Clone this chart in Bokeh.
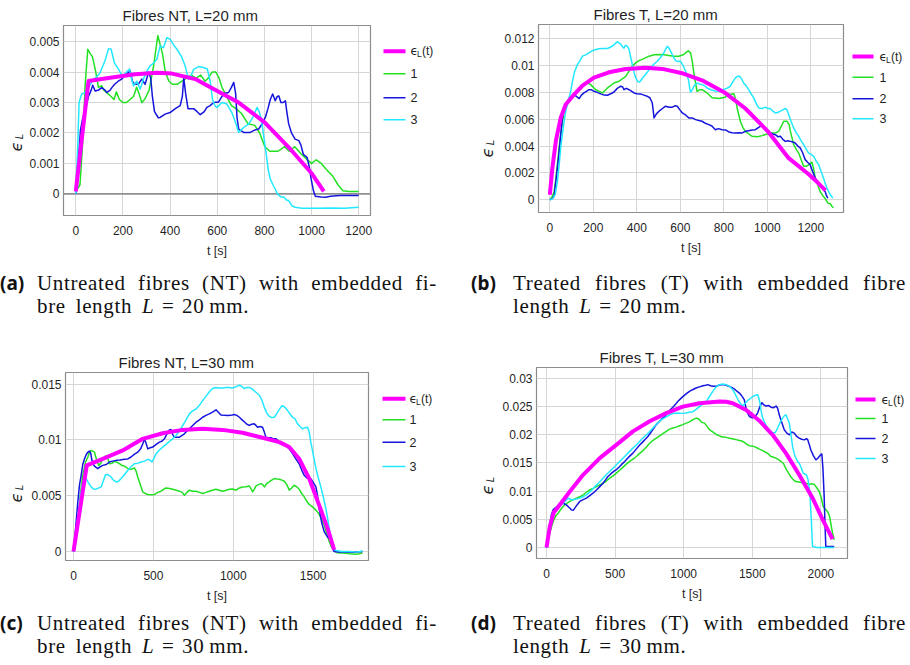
import math
from bokeh.plotting import figure
from bokeh.layouts import row, column
from bokeh.models import Range1d, FixedTicker, CustomJSTickFormatter, Span, Div
from bokeh.core.properties import value
from bokeh.embed import file_html
from bokeh.resources import INLINE

# ---------------- data ----------------
# Panel (a): Fibres NT, L=20 mm
a_fit_t = [0, 54, 153, 252, 344, 408, 507, 602, 691, 801, 903, 1002, 1052]
a_fit_e = [0.00008, 0.00371, 0.00382, 0.00393, 0.00398, 0.00395, 0.00377, 0.00337, 0.00300, 0.00235, 0.00153, 0.00066, 0.00008]
a1_t = [0, 10, 18, 28, 40, 51, 62, 71, 85, 96, 110, 120, 135, 150, 162, 172, 185, 200, 215, 230, 245, 258, 268, 280, 292, 311, 330, 348, 358, 368, 380, 395, 410, 430, 450, 470, 490, 510, 530, 548, 562, 578, 594, 608, 620, 640, 660, 680, 703, 731, 759, 780, 802, 823, 858, 886, 905, 929, 957, 985, 1000, 1020, 1041, 1063, 1091, 1112, 1133, 1160, 1200]
a1_e = [0.0001, 0.0002, 0.0003, 0.0015, 0.0036, 0.00475, 0.0046, 0.0045, 0.0040, 0.0035, 0.00355, 0.0034, 0.0033, 0.0032, 0.0031, 0.00335, 0.0031, 0.0030, 0.0030, 0.0031, 0.0032, 0.0035, 0.0033, 0.0030, 0.0031, 0.0034, 0.0042, 0.0052, 0.0049, 0.0046, 0.0040, 0.0037, 0.0036, 0.0036, 0.0037, 0.0038, 0.0039, 0.0038, 0.0039, 0.0037, 0.0038, 0.0040, 0.0040, 0.0038, 0.0035, 0.0032, 0.0029, 0.0028, 0.00264, 0.0023, 0.00225, 0.0020, 0.00155, 0.0014, 0.0014, 0.00155, 0.0014, 0.00155, 0.0013, 0.0011, 0.0010, 0.00112, 0.0010, 0.0008, 0.00057, 0.0003, 0.0001, 0.00008, 0.00008]
a2_t = [0, 10, 20, 30, 45, 54, 65, 72, 82, 95, 110, 125, 132, 145, 153, 165, 180, 195, 210, 225, 231, 240, 250, 265, 280, 294, 309, 318, 325, 334, 350, 358, 379, 400, 422, 443, 452, 458, 466, 476, 490, 500, 515, 528, 545, 556, 570, 585, 606, 620, 630, 648, 660, 670, 678, 684, 691, 712, 740, 760, 776, 790, 804, 815, 825, 835, 846, 855, 861, 870, 880, 889, 895, 903, 915, 930, 946, 955, 965, 981, 990, 998, 1008, 1016, 1040, 1060, 1080, 1120, 1200]
a2_e = [0.0000, 0.0010, 0.0021, 0.0025, 0.0029, 0.0032, 0.0034, 0.00357, 0.00338, 0.0034, 0.00349, 0.0034, 0.00333, 0.0034, 0.00349, 0.0036, 0.0037, 0.00377, 0.0039, 0.0040, 0.00404, 0.0037, 0.0036, 0.0036, 0.00377, 0.0036, 0.0040, 0.0038, 0.0032, 0.0027, 0.0025, 0.00251, 0.00262, 0.00267, 0.0028, 0.0029, 0.0032, 0.0038, 0.0033, 0.0028, 0.0028, 0.0028, 0.0027, 0.0026, 0.0027, 0.00284, 0.0029, 0.0030, 0.00302, 0.0032, 0.0033, 0.00333, 0.0035, 0.00366, 0.0033, 0.0025, 0.00213, 0.00202, 0.00202, 0.0021, 0.00213, 0.0023, 0.00251, 0.0028, 0.0031, 0.00328, 0.00306, 0.0032, 0.00322, 0.0030, 0.0030, 0.00306, 0.0027, 0.0023, 0.0020, 0.0018, 0.00175, 0.0016, 0.0013, 0.0012, 0.0009, 0.0005, 0.0001, -0.00008, -0.0001, -0.00011, -0.00008, -0.00005, -0.00005]
a3_t = [0, 8, 14, 25, 40, 55, 70, 82, 95, 103, 115, 125, 139, 150, 164, 181, 195, 202, 215, 228, 236, 245, 259, 273, 287, 302, 315, 330, 344, 358, 372, 386, 400, 414, 429, 450, 464, 478, 490, 500, 521, 542, 558, 570, 580, 590, 599, 620, 641, 662, 675, 691, 712, 733, 750, 769, 778, 787, 797, 807, 816, 825, 836, 846, 855, 870, 882, 893, 903, 918, 931, 960, 1020, 1080, 1140, 1200]
a3_e = [0.0000, 0.0015, 0.0030, 0.00328, 0.00333, 0.0035, 0.0037, 0.0038, 0.0039, 0.00398, 0.0042, 0.0044, 0.00477, 0.00475, 0.0043, 0.0041, 0.0039, 0.00388, 0.0040, 0.0041, 0.0038, 0.00355, 0.0037, 0.00344, 0.00377, 0.00404, 0.0042, 0.0043, 0.00442, 0.00486, 0.0048, 0.00513, 0.00508, 0.0049, 0.00475, 0.00448, 0.0042, 0.00377, 0.0039, 0.00409, 0.00418, 0.00415, 0.0041, 0.0037, 0.0031, 0.0029, 0.00284, 0.0030, 0.00295, 0.00267, 0.0024, 0.00202, 0.00218, 0.00229, 0.0025, 0.00284, 0.0027, 0.00246, 0.0019, 0.00136, 0.0008, 0.00049, 0.0003, 0.00016, 0.0000, -0.0001, -0.0001, -0.0002, -0.00022, -0.0004, -0.00044, -0.00047, -0.00047, -0.00046, -0.00047, -0.00044]

# Panel (b): Fibres T, L=20 mm
b_fit_t = [0, 12, 28, 50, 73, 104, 150, 203, 272, 349, 440, 517, 604, 700, 803, 899, 1002, 1098, 1190, 1230, 1267]
b_fit_e = [0.00037, 0.0024, 0.0044, 0.0061, 0.0071, 0.0077, 0.0085, 0.0091, 0.0095, 0.00975, 0.00983, 0.00975, 0.00945, 0.0089, 0.0080, 0.0068, 0.0051, 0.0031, 0.0019, 0.0013, 0.0007]
b1_t = [0, 10, 20, 28, 36, 43, 50, 58, 66, 73, 89, 112, 135, 157, 173, 188, 211, 242, 265, 295, 318, 349, 365, 379, 395, 410, 430, 456, 480, 502, 525, 547, 570, 593, 616, 628, 636, 647, 655, 662, 670, 677, 690, 700, 723, 746, 777, 807, 820, 830, 846, 854, 861, 869, 876, 887, 899, 915, 930, 955, 976, 1000, 1021, 1040, 1052, 1065, 1075, 1090, 1100, 1106, 1115, 1121, 1135, 1144, 1155, 1167, 1180, 1190, 1205, 1213, 1220, 1232, 1243, 1255, 1266, 1278, 1290, 1297, 1304]
b1_e = [0.0000, 0.0002, 0.0006, 0.0016, 0.0028, 0.0039, 0.0049, 0.0058, 0.0066, 0.0071, 0.0076, 0.0078, 0.0082, 0.00858, 0.0087, 0.00858, 0.0082, 0.00796, 0.00833, 0.0087, 0.00883, 0.0092, 0.0096, 0.00995, 0.0102, 0.01037, 0.0105, 0.0107, 0.0108, 0.01082, 0.0108, 0.01075, 0.0107, 0.0107, 0.01082, 0.0110, 0.0111, 0.01095, 0.0103, 0.00945, 0.0087, 0.00808, 0.0082, 0.0082, 0.00796, 0.0076, 0.00754, 0.00764, 0.0079, 0.00784, 0.0079, 0.0075, 0.00684, 0.0063, 0.00585, 0.0054, 0.0051, 0.0049, 0.00473, 0.0047, 0.00478, 0.0049, 0.00498, 0.0050, 0.0051, 0.0055, 0.00585, 0.00585, 0.0056, 0.0051, 0.0045, 0.0041, 0.0037, 0.00348, 0.0030, 0.0025, 0.0025, 0.0026, 0.0028, 0.0023, 0.0016, 0.0011, 0.0006, 0.0003, 0.0001, -0.00025, -0.0003, -0.0005, -0.0006]
b2_t = [0, 12, 20, 28, 40, 50, 58, 66, 73, 89, 100, 112, 122, 135, 145, 157, 170, 180, 190, 203, 218, 234, 250, 265, 280, 295, 310, 326, 335, 341, 352, 364, 375, 387, 400, 417, 432, 448, 460, 471, 475, 479, 490, 502, 518, 532, 548, 563, 575, 586, 598, 609, 625, 639, 655, 670, 685, 700, 715, 731, 745, 761, 775, 792, 808, 823, 838, 853, 869, 884, 899, 914, 930, 945, 960, 976, 991, 1002, 1014, 1025, 1037, 1048, 1060, 1071, 1083, 1095, 1106, 1117, 1128, 1140, 1151, 1162, 1174, 1185, 1197, 1208, 1220, 1232, 1243, 1255, 1266, 1272, 1278]
b2_e = [0.0000, 0.0001, 0.0003, 0.0014, 0.0031, 0.0048, 0.0061, 0.0068, 0.0071, 0.00734, 0.0076, 0.00784, 0.0077, 0.00754, 0.0078, 0.00796, 0.0081, 0.0082, 0.0082, 0.00808, 0.0080, 0.00789, 0.0078, 0.00779, 0.0079, 0.00803, 0.0083, 0.00846, 0.0084, 0.0082, 0.0083, 0.0082, 0.0081, 0.00796, 0.0079, 0.00789, 0.0078, 0.00771, 0.0076, 0.00721, 0.0067, 0.0061, 0.0064, 0.0066, 0.0068, 0.00697, 0.0069, 0.0069, 0.0070, 0.00697, 0.0067, 0.00647, 0.0063, 0.0061, 0.0061, 0.00597, 0.0059, 0.00585, 0.0057, 0.0056, 0.0055, 0.00522, 0.0053, 0.00522, 0.0052, 0.00505, 0.0050, 0.00498, 0.0050, 0.00498, 0.0051, 0.00515, 0.0052, 0.00522, 0.0054, 0.00555, 0.0053, 0.0051, 0.00498, 0.0049, 0.00485, 0.0047, 0.00473, 0.0045, 0.00435, 0.0044, 0.00435, 0.0043, 0.00423, 0.0040, 0.00386, 0.0035, 0.00299, 0.0028, 0.00261, 0.0021, 0.00162, 0.0013, 0.0010, 0.0008, 0.0006, 0.0003, 0.00012]
b3_t = [0, 15, 25, 35, 43, 50, 58, 66, 73, 81, 89, 96, 105, 115, 127, 140, 150, 165, 180, 195, 211, 226, 242, 265, 287, 298, 310, 318, 326, 334, 341, 347, 352, 358, 364, 372, 379, 387, 395, 405, 413, 423, 433, 448, 463, 478, 494, 509, 524, 532, 540, 548, 555, 566, 578, 590, 601, 613, 624, 632, 639, 643, 647, 655, 662, 670, 677, 690, 700, 712, 723, 740, 760, 777, 795, 813, 830, 842, 853, 863, 872, 882, 891, 902, 914, 925, 937, 948, 960, 975, 991, 1002, 1014, 1025, 1037, 1048, 1060, 1071, 1083, 1090, 1098, 1110, 1121, 1132, 1144, 1155, 1167, 1178, 1190, 1200, 1213, 1224, 1236, 1247, 1258, 1266, 1274, 1285, 1293, 1301]
b3_e = [0.0000, 0.0001, 0.0004, 0.00137, 0.0026, 0.00386, 0.0049, 0.00585, 0.0066, 0.0071, 0.0076, 0.00808, 0.0089, 0.0096, 0.01007, 0.0104, 0.0107, 0.0108, 0.01095, 0.0111, 0.0112, 0.01125, 0.01127, 0.01127, 0.01144, 0.0116, 0.01177, 0.0117, 0.0116, 0.0114, 0.0113, 0.0115, 0.0115, 0.0114, 0.0112, 0.0106, 0.01007, 0.0095, 0.00908, 0.0088, 0.00878, 0.0090, 0.0092, 0.0095, 0.00983, 0.0101, 0.01032, 0.0106, 0.01095, 0.0112, 0.01144, 0.0113, 0.01107, 0.0107, 0.01037, 0.0103, 0.01032, 0.0100, 0.00958, 0.0092, 0.00883, 0.0083, 0.00803, 0.0082, 0.00846, 0.0086, 0.0087, 0.0086, 0.00858, 0.0085, 0.00833, 0.0082, 0.0081, 0.00808, 0.0082, 0.0083, 0.00846, 0.0088, 0.00908, 0.0092, 0.0092, 0.0090, 0.0087, 0.0085, 0.0082, 0.0079, 0.00759, 0.0072, 0.00684, 0.0068, 0.0069, 0.0068, 0.0068, 0.0066, 0.00647, 0.0065, 0.0066, 0.0067, 0.0068, 0.0067, 0.00635, 0.0058, 0.00535, 0.0050, 0.00473, 0.0044, 0.0041, 0.0038, 0.00348, 0.0034, 0.00323, 0.0029, 0.00261, 0.0021, 0.00162, 0.0012, 0.00087, 0.0005, 0.0003, 0.00012]

# Panel (c): Fibres NT, L=30 mm
c_fit_t = [0, 83, 183, 308, 433, 558, 683, 808, 933, 1058, 1183, 1288, 1350, 1412, 1475, 1537, 1590, 1631]
c_fit_e = [0.0, 0.00772, 0.0083, 0.00906, 0.0101, 0.0106, 0.0109, 0.0110, 0.0109, 0.01064, 0.0102, 0.0098, 0.00936, 0.00832, 0.00654, 0.00416, 0.00208, 0.00015]
c1_t = [0, 15, 27, 40, 58, 75, 90, 100, 110, 120, 131, 145, 158, 170, 183, 200, 212, 225, 240, 256, 272, 288, 304, 319, 335, 350, 366, 381, 392, 402, 418, 433, 450, 465, 485, 506, 527, 548, 565, 579, 600, 621, 642, 663, 680, 694, 710, 725, 746, 767, 788, 808, 829, 850, 870, 892, 912, 933, 955, 975, 996, 1017, 1038, 1058, 1080, 1100, 1112, 1121, 1132, 1142, 1158, 1173, 1184, 1194, 1210, 1225, 1240, 1256, 1272, 1288, 1304, 1319, 1335, 1350, 1365, 1381, 1397, 1412, 1428, 1444, 1460, 1475, 1496, 1517, 1535, 1552, 1569, 1585, 1600, 1615, 1631, 1650, 1680, 1704, 1730, 1767, 1790, 1808]
c1_e = [0.0, 0.001, 0.00267, 0.0048, 0.00683, 0.0080, 0.00847, 0.0089, 0.00906, 0.0090, 0.0089, 0.0082, 0.00772, 0.0079, 0.0083, 0.00856, 0.0085, 0.00787, 0.0079, 0.00808, 0.0080, 0.00787, 0.0077, 0.00766, 0.0075, 0.00737, 0.0074, 0.00749, 0.0072, 0.00668, 0.0060, 0.00535, 0.0052, 0.00511, 0.0051, 0.00511, 0.0053, 0.00541, 0.0056, 0.0057, 0.00565, 0.00559, 0.0055, 0.00541, 0.0053, 0.00505, 0.0053, 0.0055, 0.0054, 0.00541, 0.0053, 0.0052, 0.0053, 0.00541, 0.0055, 0.00559, 0.0055, 0.00541, 0.0055, 0.00559, 0.0056, 0.0055, 0.0057, 0.00579, 0.0058, 0.00588, 0.0056, 0.00535, 0.0056, 0.00588, 0.0060, 0.00609, 0.0060, 0.00579, 0.0061, 0.00624, 0.0064, 0.00654, 0.0065, 0.00648, 0.0064, 0.0063, 0.0060, 0.0055, 0.0057, 0.00594, 0.0058, 0.00559, 0.0052, 0.0049, 0.0045, 0.00422, 0.0040, 0.00371, 0.0034, 0.0029, 0.00238, 0.0016, 0.00089, 0.0004, 0.00006, -0.0001, -0.00012, -0.00015, -0.0002, -0.00024, -0.0002, -0.0001]
c2_t = [0, 10, 27, 38, 48, 58, 69, 80, 90, 100, 108, 115, 121, 135, 152, 168, 183, 205, 225, 245, 267, 290, 319, 340, 360, 380, 402, 420, 435, 444, 452, 465, 480, 496, 517, 538, 555, 569, 580, 590, 600, 610, 620, 631, 647, 663, 680, 694, 710, 725, 746, 767, 788, 808, 829, 850, 870, 892, 905, 923, 944, 965, 985, 1006, 1022, 1038, 1055, 1070, 1085, 1100, 1115, 1131, 1142, 1152, 1168, 1183, 1194, 1204, 1220, 1235, 1251, 1267, 1283, 1298, 1314, 1329, 1350, 1371, 1391, 1412, 1428, 1444, 1460, 1485, 1500, 1517, 1527, 1537, 1553, 1569, 1590, 1610, 1620, 1631, 1660, 1704, 1760, 1808]
c2_e = [0.0, 0.0015, 0.00446, 0.0060, 0.00683, 0.0078, 0.00832, 0.0087, 0.0089, 0.0090, 0.0088, 0.0082, 0.00787, 0.0076, 0.00743, 0.0076, 0.00772, 0.0078, 0.00802, 0.0081, 0.00817, 0.0082, 0.00826, 0.0083, 0.00847, 0.0087, 0.0089, 0.0092, 0.0097, 0.0101, 0.0098, 0.0092, 0.0093, 0.00936, 0.0096, 0.0098, 0.0099, 0.0101, 0.0104, 0.0107, 0.0109, 0.01093, 0.0105, 0.01025, 0.01025, 0.01025, 0.0104, 0.01055, 0.0108, 0.0110, 0.0113, 0.01159, 0.0118, 0.01203, 0.0122, 0.01233, 0.0125, 0.0127, 0.0125, 0.01224, 0.0122, 0.01218, 0.0122, 0.01227, 0.0122, 0.01203, 0.0118, 0.0116, 0.0114, 0.0113, 0.0114, 0.01144, 0.0113, 0.01114, 0.0112, 0.01114, 0.0107, 0.01025, 0.0102, 0.0102, 0.0101, 0.0101, 0.0099, 0.00974, 0.0096, 0.0095, 0.0092, 0.00877, 0.0083, 0.00787, 0.0073, 0.00683, 0.0066, 0.00654, 0.0062, 0.00579, 0.0050, 0.00386, 0.0026, 0.00178, 0.0013, 0.00104, 0.0005, 0.0, -0.00003, -0.00003, -0.00005, 0.0]
c3_t = [0, 12, 27, 42, 58, 70, 79, 92, 110, 126, 142, 158, 173, 186, 200, 215, 235, 250, 267, 282, 298, 320, 340, 360, 381, 400, 423, 444, 465, 478, 490, 505, 517, 538, 558, 580, 600, 620, 642, 663, 683, 704, 725, 746, 767, 788, 808, 829, 850, 870, 892, 912, 933, 955, 975, 990, 1006, 1022, 1038, 1053, 1069, 1084, 1100, 1115, 1131, 1147, 1163, 1178, 1194, 1210, 1225, 1240, 1256, 1270, 1283, 1296, 1308, 1324, 1340, 1356, 1371, 1386, 1402, 1418, 1433, 1450, 1465, 1475, 1485, 1500, 1517, 1532, 1548, 1563, 1579, 1590, 1600, 1610, 1621, 1642, 1680, 1725, 1770, 1808]
c3_e = [0.0, 0.0010, 0.00297, 0.0048, 0.00624, 0.0065, 0.00654, 0.0062, 0.00579, 0.0056, 0.00559, 0.0057, 0.00579, 0.0063, 0.00689, 0.0069, 0.00668, 0.0064, 0.00624, 0.0063, 0.00654, 0.0069, 0.00728, 0.0076, 0.00787, 0.0079, 0.00802, 0.0081, 0.00826, 0.0082, 0.00802, 0.0084, 0.00877, 0.0091, 0.00936, 0.0096, 0.00986, 0.0101, 0.0104, 0.0108, 0.01129, 0.0118, 0.01233, 0.0126, 0.01277, 0.0131, 0.01352, 0.0139, 0.01432, 0.0146, 0.0147, 0.01465, 0.01465, 0.0147, 0.0147, 0.01465, 0.0147, 0.0148, 0.0149, 0.0148, 0.0146, 0.0147, 0.0147, 0.0146, 0.0144, 0.0142, 0.0140, 0.0136, 0.01292, 0.0124, 0.01212, 0.0120, 0.01203, 0.0123, 0.01263, 0.0129, 0.01307, 0.0129, 0.01263, 0.0123, 0.01203, 0.0119, 0.01144, 0.0112, 0.01099, 0.0111, 0.01114, 0.0107, 0.0098, 0.0087, 0.00743, 0.0066, 0.00579, 0.0049, 0.00386, 0.0030, 0.00208, 0.0011, 0.0003, 0.0001, 0.0, 0.0, -0.00005, 0.00005]

# Panel (d): Fibres T, L=30 mm
d_fit_t = [0, 24, 53, 97, 170, 267, 388, 509, 630, 752, 873, 994, 1115, 1261, 1310, 1358, 1455, 1552, 1648, 1745, 1842, 1939, 2012, 2085]
d_fit_e = [0.0, 0.00373, 0.0062, 0.00757, 0.00994, 0.0129, 0.01586, 0.0182, 0.0206, 0.0224, 0.02385, 0.0250, 0.0256, 0.0259, 0.02585, 0.0256, 0.0244, 0.0225, 0.0200, 0.01675, 0.0129, 0.0088, 0.0050, 0.0015]
d1_t = [0, 12, 24, 38, 53, 70, 85, 100, 121, 145, 170, 195, 218, 242, 267, 291, 315, 340, 364, 388, 412, 436, 461, 485, 509, 533, 558, 582, 606, 630, 655, 679, 703, 727, 752, 776, 800, 824, 848, 873, 897, 921, 945, 970, 994, 1018, 1042, 1067, 1091, 1103, 1115, 1133, 1152, 1170, 1188, 1206, 1224, 1242, 1261, 1280, 1297, 1315, 1333, 1352, 1370, 1388, 1406, 1424, 1442, 1460, 1479, 1497, 1515, 1533, 1552, 1576, 1600, 1618, 1636, 1655, 1673, 1691, 1709, 1727, 1745, 1764, 1782, 1800, 1818, 1850, 1880, 1915, 1933, 1952, 1970, 1988, 2003, 2017, 2033, 2048, 2060, 2068, 2078, 2085, 2097]
d1_e = [0.0, 0.0012, 0.00254, 0.0038, 0.0049, 0.0057, 0.0061, 0.0066, 0.00728, 0.0078, 0.00817, 0.0085, 0.00876, 0.0090, 0.00935, 0.0098, 0.01024, 0.0105, 0.0108, 0.0111, 0.0114, 0.0118, 0.0123, 0.0127, 0.0132, 0.0137, 0.01426, 0.0148, 0.01527, 0.0157, 0.01615, 0.0167, 0.0172, 0.0178, 0.0185, 0.0190, 0.0194, 0.0198, 0.0202, 0.0206, 0.0210, 0.0212, 0.02136, 0.0216, 0.0218, 0.02207, 0.0223, 0.0227, 0.02296, 0.0229, 0.02266, 0.0222, 0.02207, 0.0215, 0.0209, 0.0206, 0.0203, 0.0200, 0.0198, 0.0196, 0.0196, 0.0195, 0.0194, 0.0193, 0.0192, 0.0191, 0.0190, 0.0189, 0.01864, 0.0183, 0.01805, 0.0180, 0.0179, 0.0177, 0.01746, 0.0172, 0.01686, 0.0166, 0.01615, 0.0160, 0.01586, 0.0156, 0.01527, 0.0149, 0.0140, 0.0132, 0.0125, 0.0120, 0.0117, 0.0116, 0.0115, 0.0112, 0.0113, 0.0112, 0.0106, 0.00994, 0.0088, 0.00728, 0.0068, 0.0064, 0.0058, 0.0049, 0.0035, 0.00254, 0.00136]
d2_t = [0, 12, 24, 36, 48, 62, 78, 93, 109, 125, 145, 165, 182, 195, 206, 224, 242, 267, 291, 315, 339, 364, 388, 412, 430, 448, 470, 490, 509, 530, 550, 570, 590, 610, 630, 655, 679, 700, 720, 739, 760, 780, 800, 820, 840, 861, 880, 900, 921, 940, 960, 982, 1000, 1020, 1042, 1065, 1090, 1115, 1140, 1160, 1176, 1195, 1215, 1236, 1255, 1275, 1297, 1320, 1340, 1358, 1375, 1390, 1406, 1420, 1432, 1442, 1452, 1462, 1479, 1500, 1520, 1539, 1555, 1570, 1585, 1600, 1618, 1636, 1655, 1673, 1685, 1697, 1715, 1733, 1752, 1770, 1788, 1806, 1824, 1842, 1860, 1879, 1895, 1903, 1915, 1927, 1945, 1964, 1976, 1988, 2000, 2007, 2015, 2024, 2030, 2036, 2060, 2097]
d2_e = [0.0, 0.0018, 0.0043, 0.0058, 0.00668, 0.0070, 0.00728, 0.0077, 0.00787, 0.0078, 0.00757, 0.0071, 0.00668, 0.0066, 0.00698, 0.0076, 0.00817, 0.0085, 0.00876, 0.0092, 0.00964, 0.0102, 0.0108, 0.0114, 0.0120, 0.0126, 0.0131, 0.0135, 0.0138, 0.0143, 0.0148, 0.01527, 0.0158, 0.0163, 0.01675, 0.0175, 0.0182, 0.0187, 0.0192, 0.0197, 0.0204, 0.0211, 0.0218, 0.0223, 0.0228, 0.02325, 0.0238, 0.0244, 0.0249, 0.0254, 0.0260, 0.0265, 0.0269, 0.0273, 0.0277, 0.0280, 0.0283, 0.0285, 0.0287, 0.0288, 0.0289, 0.0287, 0.0286, 0.0286, 0.0288, 0.0289, 0.0289, 0.0287, 0.0285, 0.0283, 0.0280, 0.0277, 0.0274, 0.0270, 0.0266, 0.0262, 0.0250, 0.0240, 0.02325, 0.0230, 0.0232, 0.02385, 0.0250, 0.0257, 0.0253, 0.0251, 0.0252, 0.0249, 0.0248, 0.0251, 0.0247, 0.0235, 0.0222, 0.0209, 0.0203, 0.0200, 0.0205, 0.0203, 0.0197, 0.0194, 0.0192, 0.0191, 0.0193, 0.0192, 0.0183, 0.0173, 0.0163, 0.01556, 0.0158, 0.01615, 0.0165, 0.0166, 0.0140, 0.0090, 0.0040, 0.0002, 0.0002, 0.0002]
d3_t = [0, 12, 24, 36, 48, 65, 85, 103, 121, 140, 158, 176, 194, 218, 242, 267, 291, 322, 352, 382, 412, 443, 473, 503, 533, 564, 594, 624, 655, 685, 715, 745, 776, 806, 836, 866, 897, 927, 958, 988, 1018, 1042, 1067, 1091, 1115, 1140, 1164, 1188, 1212, 1236, 1261, 1285, 1309, 1334, 1358, 1376, 1394, 1412, 1430, 1448, 1467, 1485, 1503, 1521, 1539, 1548, 1556, 1566, 1576, 1594, 1612, 1630, 1648, 1667, 1685, 1703, 1721, 1735, 1745, 1758, 1770, 1782, 1794, 1806, 1818, 1830, 1842, 1856, 1871, 1883, 1895, 1907, 1920, 1930, 1939, 1970, 2012, 2097]
d3_e = [0.0, 0.0015, 0.0037, 0.0049, 0.0058, 0.0065, 0.00698, 0.0074, 0.00787, 0.0083, 0.00876, 0.0085, 0.00846, 0.0086, 0.00876, 0.0090, 0.00935, 0.0100, 0.0108, 0.0115, 0.0123, 0.0131, 0.0138, 0.0145, 0.01527, 0.0160, 0.01675, 0.0175, 0.0182, 0.0190, 0.0197, 0.0204, 0.0212, 0.0220, 0.02266, 0.0231, 0.02355, 0.0238, 0.02385, 0.0238, 0.02385, 0.0240, 0.0241, 0.0245, 0.0250, 0.0255, 0.0259, 0.0268, 0.0277, 0.0285, 0.0289, 0.0290, 0.0289, 0.0286, 0.0280, 0.0272, 0.0263, 0.0256, 0.0251, 0.0256, 0.0261, 0.0264, 0.0268, 0.0270, 0.0271, 0.0265, 0.0256, 0.0240, 0.02296, 0.0220, 0.0212, 0.0207, 0.0203, 0.0204, 0.0212, 0.0222, 0.02296, 0.0234, 0.02355, 0.0228, 0.02207, 0.0200, 0.0179, 0.0166, 0.01586, 0.0153, 0.01497, 0.0142, 0.0132, 0.0130, 0.0129, 0.0120, 0.00964, 0.0050, 0.0002, 0.0, 0.0, 0.0]

# tick values and texts
ticks_x_20 = [0, 200, 400, 600, 800, 1000, 1200]
ticks_x_c = [0, 500, 1000, 1500]
ticks_x_d = [0, 500, 1000, 1500, 2000]
ticks_y_a = [0, 0.001, 0.002, 0.003, 0.004, 0.005]
ticks_y_b = [0, 0.002, 0.004, 0.006, 0.008, 0.010, 0.012]
ticks_y_c = [0, 0.005, 0.010, 0.015]
ticks_y_d = [0, 0.005, 0.010, 0.015, 0.020, 0.025, 0.030]
titles = ["Fibres NT, L=20 mm", "Fibres T, L=20 mm", "Fibres NT, L=30 mm", "Fibres T, L=30 mm"]
legend_labels = ["1", "2", "3"]
x_label = "t [s]"
cap_labels = ["(a)", "(b)", "(c)", "(d)"]
cap_line1 = ["Untreated fibres (NT) with embedded fi-", "Treated fibres (T) with embedded fibre",
             "Untreated fibres (NT) with embedded fi-", "Treated fibres (T) with embedded fibre"]
cap_line2 = ["bre length <i>L</i>&#8196;=&#8196;20&#8201;mm.", "length <i>L</i>&#8196;=&#8196;20&#8201;mm.",
             "bre length <i>L</i>&#8196;=&#8196;30&#8201;mm.", "length <i>L</i>&#8196;=&#8196;30&#8201;mm."]

# ---------------- styling ----------------
MAG, GRN, BLU, CYN = "#ff00ff", "#22e022", "#1515dd", "#22e8ff"
TXT = "#1f1f1f"
FONT = "Liberation Sans"
GRID = "#d6d6d6"
FRAME = "#8c8c8c"


def tick_fmt():
    return CustomJSTickFormatter(code="if (Math.abs(tick) < 1e-12) { return '0'; } return String(parseFloat(tick.toPrecision(6)));")


def no_align(f):
    try:
        f.frame_align = False
    except Exception:
        pass
    return f


def side_fig(w, H, bt, bb, fh):
    # x: pixels from the figure's left edge; y: pixels above the plot frame's bottom
    f = figure(width=w, height=H, x_range=Range1d(0, w), y_range=Range1d(0, fh),
               x_axis_location=None, y_axis_location=None, min_border_left=0, min_border_right=0,
               min_border_top=bt, min_border_bottom=bb, outline_line_color=None,
               toolbar_location=None, output_backend="svg", title=None)
    f.grid.visible = False
    return no_align(f)


def panel(cfg, fit, series):
    """Positions in cfg are absolute page pixels (as measured on the reference)."""
    ox, oy, W, H = cfg["box"]
    fl, ft, fr, fb = cfg["frame"]
    ylw, lgw = cfg["ylw"], cfg["lgw"]
    bl = fl - ox - ylw
    br = ox + W - lgw - fr
    bt, bb = ft - oy, oy + H - fb
    fh = fb - ft

    p = figure(width=bl + (fr - fl) + br, height=H, x_range=Range1d(*cfg["xr"]), y_range=Range1d(*cfg["yr"]),
               min_border_left=bl, min_border_right=br, min_border_top=bt, min_border_bottom=bb,
               toolbar_location=None, output_backend="svg", title=cfg["title"],
               outline_line_color=FRAME, outline_line_width=1.2)
    no_align(p)
    p.title.align = "left"
    p.title.offset = cfg["title_x"] - fl
    p.title.text_font = FONT
    p.title.text_font_size = "15px"
    p.title.text_font_style = "normal"
    p.title.text_color = TXT
    p.title.standoff = 4
    p.xaxis.ticker = FixedTicker(ticks=cfg["xt"])
    p.yaxis.ticker = FixedTicker(ticks=cfg["yt"])
    p.xaxis.formatter = tick_fmt()
    p.yaxis.formatter = tick_fmt()
    for ax in (p.xaxis, p.yaxis):
        ax.axis_line_color = None
        ax.major_tick_line_color = None
        ax.minor_tick_line_color = None
        ax.major_tick_out = 0
        ax.major_tick_in = 0
        ax.major_label_text_font = FONT
        ax.major_label_text_font_size = "12px"
        ax.major_label_text_color = TXT
    p.yaxis.major_label_standoff = 4
    p.xaxis.major_label_standoff = 10
    p.xaxis.axis_label = x_label
    p.xaxis.axis_label_text_font = FONT
    p.xaxis.axis_label_text_font_size = "12.5px"
    p.xaxis.axis_label_text_font_style = "normal"
    p.xaxis.axis_label_text_color = TXT
    p.xaxis.axis_label_standoff = 6
    p.grid.grid_line_color = GRID
    p.grid.grid_line_width = 1
    if cfg.get("zero"):
        p.add_layout(Span(location=0, dimension="width", line_color="#8f8f8f", line_width=1.6, level="underlay"))
    for (t, e), c in zip(series, [GRN, BLU, CYN]):
        p.line(t, e, line_color=c, line_width=1.5, line_join="round")
    p.line(fit[0], fit[1], line_color=MAG, line_width=4, line_join="round")

    # y-axis label figure: rotated italic epsilon with subscript L
    yl = side_fig(ylw, H, bt, bb, fh)
    ex, ey = cfg["eps"]
    yl.text(x=[ex - ox], y=[fb - ey], text=["ϵ"], angle=math.pi / 2, text_font=value("DejaVu Sans"),
            text_font_style="italic", text_font_size="16px", text_align="center",
            text_baseline="middle", text_color=TXT)
    yl.text(x=[ex - ox + 3], y=[fb - ey + 10], text=["L"], angle=math.pi / 2, text_font=value(FONT),
            text_font_style="italic", text_font_size="10px", text_align="center",
            text_baseline="middle", text_color=TXT)

    # legend figure
    lx = ox + W - lgw
    lg = side_fig(lgw, H, bt, bb, fh)
    lx0, lx1 = cfg["lline"]
    tx = cfg["ltext"] - lx
    cols = [MAG, GRN, BLU, CYN]
    wids = [4, 1.5, 1.5, 1.5]
    for i, Y in enumerate(cfg["lrows"]):
        yy = fb - Y
        lg.line([lx0 - lx, lx1 - lx], [yy, yy], line_color=cols[i], line_width=wids[i])
        if i == 0:
            lg.text(x=[tx], y=[yy], text=["ϵ"], text_font=value("DejaVu Sans"), text_font_size="12px",
                    text_align="left", text_baseline="middle", text_color=TXT)
            lg.text(x=[tx + 6.5], y=[yy - 3], text=["L"], text_font=value(FONT), text_font_size="8.5px",
                    text_align="left", text_baseline="middle", text_color=TXT)
            lg.text(x=[tx + 11.5], y=[yy], text=["(t)"], text_font=value(FONT), text_font_size="12px",
                    text_align="left", text_baseline="middle", text_color=TXT)
        else:
            lg.text(x=[tx], y=[yy], text=[legend_labels[i - 1]], text_font=value(FONT),
                    text_font_size="12.5px", text_align="left", text_baseline="middle", text_color=TXT)
    return row(yl, p, lg)


TOP_H, CAP1_H, BOT_H, CAP2_H = 261, 77, 268, 57
BOT_Y = TOP_H + CAP1_H

cfg_a = dict(box=(0, 0, 455, TOP_H), frame=(62, 25, 370, 215), ylw=26, lgw=77, title=titles[0], title_x=121,
             xr=(-52, 1250), yr=(-0.00071, 0.00553), xt=ticks_x_20, yt=ticks_y_a,
             eps=(16.0, 146), lline=(383, 405), ltext=410, lrows=[50.7, 73.3, 97.3, 119.3], zero=True)
cfg_b = dict(box=(455, 0, 453, TOP_H), frame=(538, 24, 843, 212), ylw=44, lgw=57, title=titles[1], title_x=593,
             xr=(-52, 1350), yr=(-0.00095, 0.01306), xt=ticks_x_20, yt=ticks_y_b,
             eps=(487.0, 152), lline=(852, 873), ltext=879, lrows=[56, 76.7, 98.3, 118.3])
cfg_c = dict(box=(0, BOT_Y, 455, BOT_H), frame=(65, 372, 368, 560), ylw=26, lgw=74, title=titles[2], title_x=118,
             xr=(-50, 1846), yr=(-0.0008, 0.01604), xt=ticks_x_c, yt=ticks_y_c,
             eps=(16.0, 497), lline=(382, 405), ltext=409, lrows=[398.3, 419.3, 441.7, 466])
cfg_d = dict(box=(455, BOT_Y, 453, BOT_H), frame=(535, 367, 847, 558), ylw=44, lgw=59, title=titles[3], title_x=598,
             xr=(-73, 2194), yr=(-0.00195, 0.03194), xt=ticks_x_d, yt=ticks_y_d,
             eps=(487.0, 489), lline=(855, 875), ltext=881, lrows=[399, 418, 438, 458])

pa = panel(cfg_a, (a_fit_t, a_fit_e), [(a1_t, a1_e), (a2_t, a2_e), (a3_t, a3_e)])
pb = panel(cfg_b, (b_fit_t, b_fit_e), [(b1_t, b1_e), (b2_t, b2_e), (b3_t, b3_e)])
pc = panel(cfg_c, (c_fit_t, c_fit_e), [(c1_t, c1_e), (c2_t, c2_e), (c3_t, c3_e)])
pd = panel(cfg_d, (d_fit_t, d_fit_e), [(d1_t, d1_e), (d2_t, d2_e), (d3_t, d3_e)])


def caption(i, width, height, pad, lab_left, txt_left, line1_w):
    html = (
        f'<div style="position:relative;width:{width}px;height:{height}px;padding-top:{pad}px;box-sizing:border-box;'
        f'font-family:\'Liberation Serif\',serif;font-size:21px;line-height:23px;color:#111;'
        f'letter-spacing:0.65px;word-spacing:4px;white-space:nowrap;overflow:hidden;">'
        f'<span style="position:absolute;left:{lab_left}px;top:{pad}px;font-family:\'Noto Sans\',sans-serif;'
        f'font-weight:700;font-size:19px;letter-spacing:0;">{cap_labels[i]}</span>'
        f'<div style="margin-left:{txt_left}px;width:{line1_w}px;text-align:justify;text-align-last:justify;white-space:normal;">{cap_line1[i]}</div>'
        f'<div style="margin-left:{txt_left}px;">{cap_line2[i]}</div></div>'
    )
    return Div(text=html, width=width, height=height, margin=(0, 0, 0, 0))


cap1 = row(caption(0, 455, CAP1_H, 11, 0, 37, 400), caption(1, 453, CAP1_H, 11, 16, 58, 393))
cap2 = row(caption(2, 455, CAP2_H, 6, 0, 37, 400), caption(3, 453, CAP2_H, 6, 16, 58, 393))

layout = column(row(pa, pb), cap1, row(pc, pd), cap2)

open("out.html", "w").write(file_html(layout, INLINE))
